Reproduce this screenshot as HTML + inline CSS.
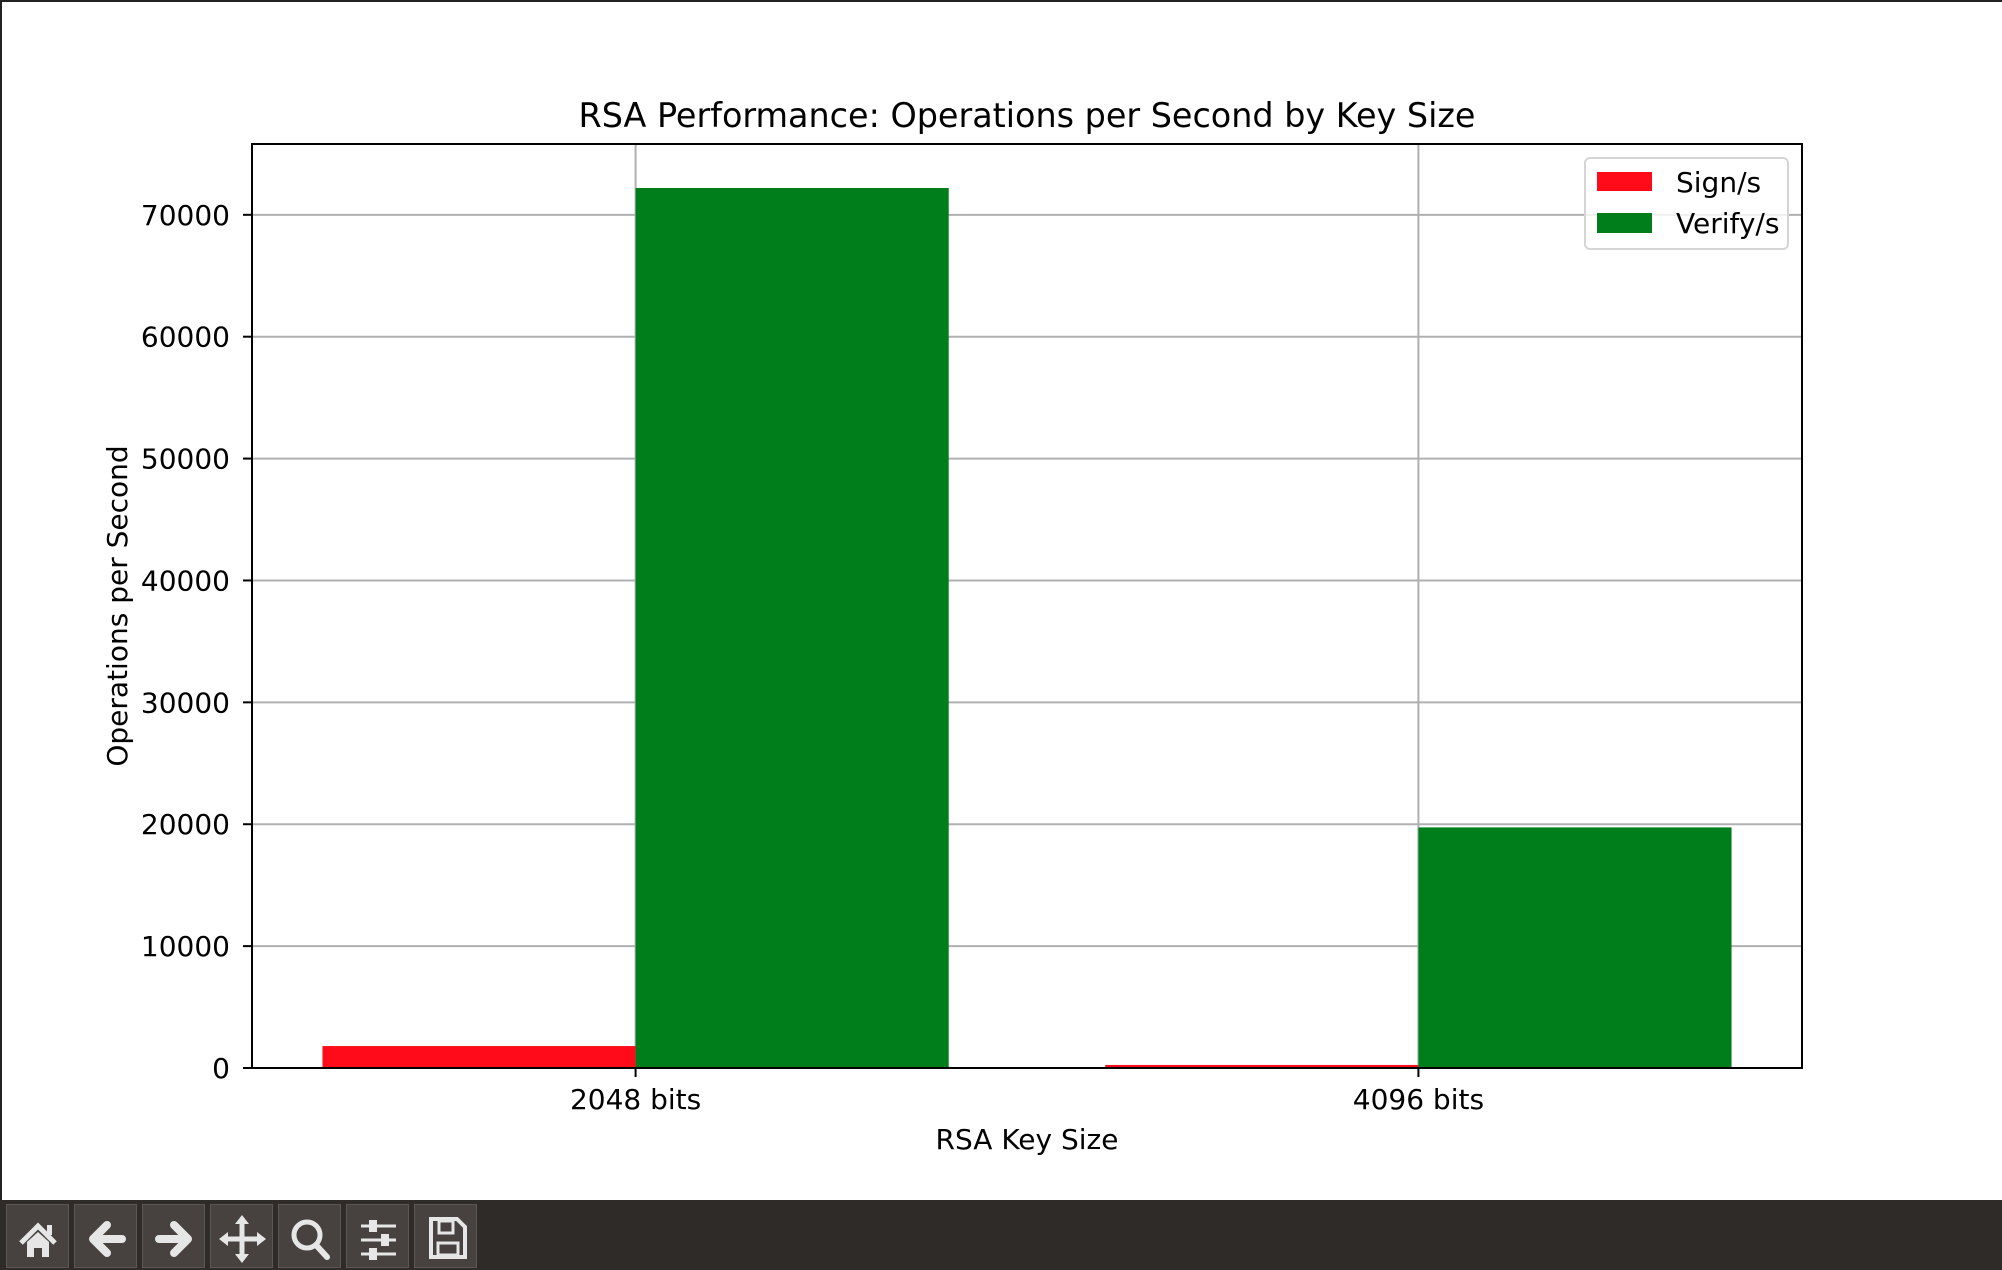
<!DOCTYPE html>
<html><head><meta charset="utf-8"><style>
html,body{margin:0;padding:0;background:#fff;}
body{width:2002px;height:1270px;overflow:hidden;position:relative;font-family:"DejaVu Sans","Liberation Sans",sans-serif;}
#tb{position:absolute;left:0;top:1200px;width:2002px;height:70px;background:#2f2b28;}
.btn{position:absolute;top:4px;width:63px;height:64px;background:#47423f;border:1px solid #5c5754;box-sizing:border-box;}
.btn svg{position:absolute;left:4px;top:0;}
</style></head><body>
<svg id="chart" width="2002" height="1200" style="position:absolute;left:0;top:0" font-family="DejaVu Sans, Liberation Sans, sans-serif">
<rect x="0" y="0" width="2" height="1200" fill="#222"/>
<rect x="0" y="0" width="2002" height="2" fill="#222"/>
<text x="1027" y="127" font-size="33.4" text-anchor="middle">RSA Performance: Operations per Second by Key Size</text>
<g id="grid"></g>
<g id="bars"></g>
<g id="axes"></g>
<text x="1027" y="1149" font-size="28" text-anchor="middle">RSA Key Size</text>
<text transform="translate(127,606) rotate(-90)" font-size="28" text-anchor="middle">Operations per Second</text>
<g>
<rect x="1585" y="158" width="203" height="91" rx="5" fill="#fff" fill-opacity="0.8" stroke="#d5d5d5" stroke-width="2"/>
<rect x="1597" y="172" width="55" height="19" fill="#ff0b19"/>
<text x="1676" y="192" font-size="28">Sign/s</text>
<rect x="1597" y="213" width="55" height="20" fill="#007e1c"/>
<text x="1676" y="233" font-size="28">Verify/s</text>
</g>
</svg>
<div id="tb">
<div class="btn" style="left:6px"><svg width="55" height="63"><path d="M10 38 L27 21 L44 38" stroke="#e6e6e6" stroke-width="5" fill="none"/><rect x="36" y="20" width="5" height="10" fill="#e6e6e6"/><path d="M16 37 L27 27 L38 37 V52 H31 V43 H23 V52 H16Z" fill="#e6e6e6"/></svg></div>
<div class="btn" style="left:74px"><svg width="55" height="63"><path d="M28 20 L14 34 L28 48 M15 34 H43" stroke="#e6e6e6" stroke-width="8" stroke-linecap="round" stroke-linejoin="round" fill="none"/></svg></div>
<div class="btn" style="left:142px"><svg width="55" height="63"><path d="M27 20 L41 34 L27 48 M40 34 H12" stroke="#e6e6e6" stroke-width="8" stroke-linecap="round" stroke-linejoin="round" fill="none"/></svg></div>
<div class="btn" style="left:210px"><svg width="55" height="63"><path d="M27 14 V54 M8 34 H47" stroke="#e6e6e6" stroke-width="5"/><path d="M27 10 L20 19 H34Z M27 58 L20 49 H34Z M4 34 L13 27 V41Z M51 34 L42 27 V41Z" fill="#e6e6e6"/></svg></div>
<div class="btn" style="left:278px"><svg width="55" height="63"><circle cx="24" cy="30" r="13" stroke="#e6e6e6" stroke-width="5" fill="none"/><path d="M33 40 L44 52" stroke="#e6e6e6" stroke-width="6" stroke-linecap="round"/></svg></div>
<div class="btn" style="left:346px"><svg width="55" height="63"><path d="M10 21 H45 M10 35 H45 M10 49 H45" stroke="#e6e6e6" stroke-width="3"/><rect x="18" y="15" width="8" height="12" fill="#e6e6e6"/><rect x="30" y="29" width="8" height="12" fill="#e6e6e6"/><rect x="18" y="43" width="8" height="12" fill="#e6e6e6"/></svg></div>
<div class="btn" style="left:414px"><svg width="55" height="63"><path d="M12 14 H38 L46 22 V52 H12Z" stroke="#e6e6e6" stroke-width="4" fill="none"/><rect x="20" y="16" width="14" height="12" fill="none" stroke="#e6e6e6" stroke-width="3"/><rect x="19" y="38" width="20" height="12" fill="none" stroke="#e6e6e6" stroke-width="3"/></svg></div>
</div>
<script>
const categories = ["2048 bits", "4096 bits"];
const signValues = [1800, 250];
const verifyValues = [72200, 19740];
const yTicks = [0, 10000, 20000, 30000, 40000, 50000, 60000, 70000];
const yTickLabels = ["0","10000","20000","30000","40000","50000","60000","70000"];

const NS = "http://www.w3.org/2000/svg";
const L = 252, R = 1802, T = 144, B = 1068;
const xMin = -0.49, xMax = 1.49, yMax = 75810;
const barW = 0.4;
function xs(v){ return L + (v - xMin) / (xMax - xMin) * (R - L); }
function ys(v){ return B - v / yMax * (B - T); }
function mk(tag, attrs, parent){ const e = document.createElementNS(NS, tag); for (const k in attrs) e.setAttribute(k, attrs[k]); parent.appendChild(e); return e; }

const grid = document.getElementById('grid');
const bars = document.getElementById('bars');
const axes = document.getElementById('axes');

yTicks.forEach((t, i) => {
  const y = ys(t);
  const g = mk('line', {x1: L, x2: R, y1: y, y2: y, stroke: '#b0b0b0', 'stroke-width': 2}, grid);
  
  
  const tk = mk('line', {x1: L - 9, x2: L, y1: y, y2: y, stroke: '#000', 'stroke-width': 2}, axes);
  
  
  const tx = mk('text', {x: L - 22, y: y + 10, 'font-size': 28, 'text-anchor': 'end'}, axes);
  tx.textContent = yTickLabels[i];
  
  
});
categories.forEach((c, i) => {
  const x = xs(i);
  const g = mk('line', {x1: x, x2: x, y1: T, y2: B, stroke: '#b0b0b0', 'stroke-width': 2}, grid);
  
  
  const tk = mk('line', {x1: x, x2: x, y1: B, y2: B + 9, stroke: '#000', 'stroke-width': 2}, axes);
  
  
  const tx = mk('text', {x: x, y: B + 41, 'font-size': 28, 'text-anchor': 'middle'}, axes);
  tx.textContent = c;
  
  

  const s = mk('rect', {x: xs(i - barW), y: ys(signValues[i]), width: xs(i) - xs(i - barW), height: B - ys(signValues[i]), fill: '#ff0b19'}, bars);
  
  
  const v = mk('rect', {x: xs(i), y: ys(verifyValues[i]), width: xs(i + barW) - xs(i), height: B - ys(verifyValues[i]), fill: '#007e1c'}, bars);
  
  
});
const frame = mk('rect', {x: L, y: T, width: R - L, height: B - T, fill: 'none', stroke: '#000', 'stroke-width': 2}, axes);


</script>
</body></html>
